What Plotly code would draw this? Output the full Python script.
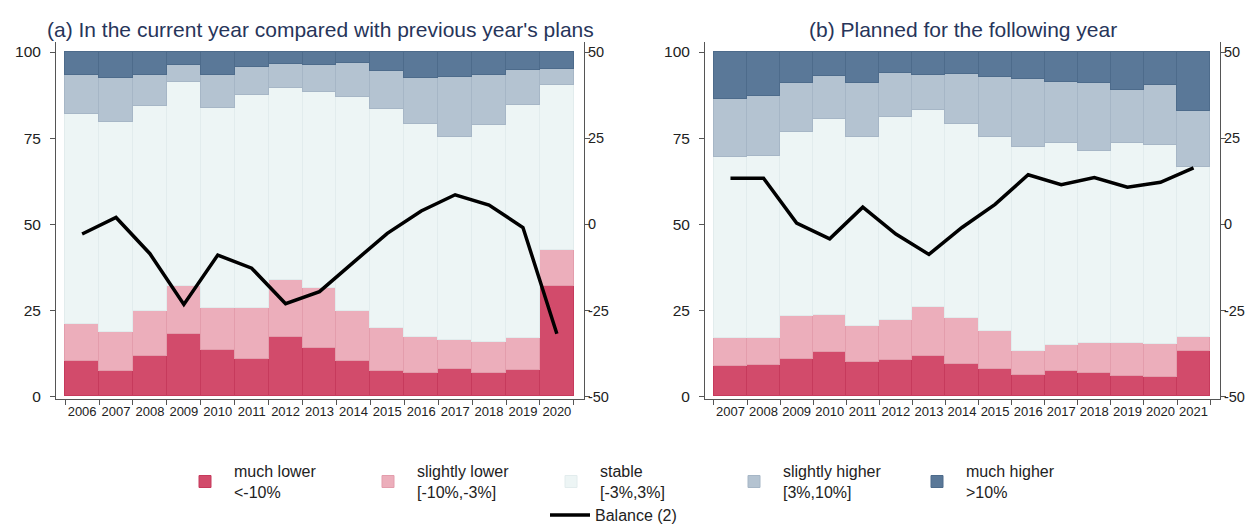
import plotly.graph_objects as go

# ---------------- data ----------------
years_a = ["2006", "2007", "2008", "2009", "2010", "2011", "2012", "2013",
           "2014", "2015", "2016", "2017", "2018", "2019", "2020"]
years_b = ["2007", "2008", "2009", "2010", "2011", "2012", "2013", "2014",
           "2015", "2016", "2017", "2018", "2019", "2020", "2021"]

# (a) In the current year compared with previous year's plans (shares, %)
much_lower_a = [10.2, 7.3, 11.8, 18.0, 13.4, 10.9, 17.2, 14.0, 10.2, 7.3, 6.8, 8.0, 6.7, 7.6, 32.0]
slightly_lower_a = [10.9, 11.4, 13.0, 14.0, 12.1, 14.8, 16.5, 17.3, 14.5, 12.4, 10.5, 8.3, 9.2, 9.2, 10.4]
stable_a = [60.8, 61.0, 59.3, 59.3, 58.2, 61.8, 55.8, 57.1, 62.2, 63.6, 61.8, 59.0, 62.9, 67.6, 47.8]
slightly_higher_a = [11.2, 12.8, 9.0, 4.9, 9.6, 8.0, 6.9, 7.8, 9.8, 11.2, 13.4, 17.4, 14.4, 10.2, 4.7]
much_higher_a = [6.9, 7.5, 6.9, 3.8, 6.7, 4.5, 3.6, 3.8, 3.3, 5.5, 7.5, 7.3, 6.8, 5.4, 5.1]
balance_a = [-2.8, 2.0, -8.5, -23.2, -8.9, -12.7, -23.0, -19.5, -11.0, -2.6, 3.9, 8.6, 5.6, -0.9, -31.7]

# (b) Planned for the following year (shares, %)
much_lower_b = [8.7, 9.2, 10.8, 12.8, 9.9, 10.6, 11.8, 9.5, 8.0, 6.1, 7.5, 6.7, 6.0, 5.6, 13.3]
slightly_lower_b = [8.3, 7.8, 12.4, 10.9, 10.4, 11.6, 14.0, 13.2, 11.0, 7.2, 7.4, 8.7, 9.6, 9.5, 3.9]
stable_b = [52.3, 52.8, 53.4, 56.8, 54.9, 58.7, 57.4, 56.4, 56.3, 59.1, 58.7, 55.7, 58.0, 57.8, 49.3]
slightly_higher_b = [16.9, 17.4, 14.2, 12.4, 15.8, 12.9, 10.1, 14.5, 17.3, 19.7, 17.7, 19.8, 15.2, 17.3, 16.2]
much_higher_b = [13.8, 12.8, 9.2, 7.1, 9.0, 6.2, 6.7, 6.4, 7.4, 7.9, 8.7, 9.1, 11.2, 9.8, 17.3]
balance_b = [13.4, 13.4, 0.4, -4.2, 5.0, -2.8, -8.7, -0.9, 5.8, 14.4, 11.5, 13.6, 10.8, 12.2, 16.4]

# tick labels
left_ticks = [0, 25, 50, 75, 100]
right_ticks = [-50, -25, 0, 25, 50]
right_ticktext = ["-50", "-25", "0", "25", "50"]

series_names = ["much lower<br><-10%", "slightly lower<br>[-10%,-3%]", "stable<br>[-3%,3%]",
                "slightly higher<br>[3%,10%]", "much higher<br>>10%"]
fill_colors = ["#d24b6b", "#ecaebb", "#edf5f5", "#b4c3d1", "#5a7898"]
edge_colors = ["#c63a5c", "#e39dac", "#e2eced", "#a6b6c6", "#4d6b8b"]

panel_titles = ["(a) In the current year compared with previous year's plans",
                "(b) Planned for the following year"]

FONT = "Liberation Sans, Arial, sans-serif"
TXT = "#222222"

fig = go.Figure()

panels = [
    (years_a, [much_lower_a, slightly_lower_a, stable_a, slightly_higher_a, much_higher_a], balance_a, "x", "y", "y2"),
    (years_b, [much_lower_b, slightly_lower_b, stable_b, slightly_higher_b, much_higher_b], balance_b, "x2", "y3", "y4"),
]

for p, (yrs, series, bal, xa, ya, yb) in enumerate(panels):
    for i, vals in enumerate(series):
        fig.add_trace(go.Bar(
            x=yrs, y=vals, name=series_names[i],
            marker=dict(color=fill_colors[i], line=dict(color=edge_colors[i], width=1)),
            xaxis=xa, yaxis=ya, showlegend=(p == 0), legendgroup=series_names[i],
            legend="legend",
        ))
    fig.add_trace(go.Scatter(
        x=yrs, y=bal, mode="lines", name="Balance (2)",
        line=dict(color="black", width=3.5),
        xaxis=xa, yaxis=yb, showlegend=(p == 0), legend="legend2",
    ))

xd1 = [48 / 1256, 576 / 1256]
xd2 = [697 / 1256, 1212 / 1256]
yd = [(524 - 398) / 524, (524 - 35) / 524]

common_x = dict(type="category", range=[-0.77, 14.8], tickson="boundaries", ticks="outside",
                ticklen=5, tickcolor="#555", showline=True, linecolor="#555", linewidth=1,
                showgrid=False, zeroline=False, tickangle=0,
                tickfont=dict(size=13, color=TXT, family=FONT))
common_yl = dict(range=[-0.7, 102.8], tickvals=left_ticks, ticks="outside", ticklen=5,
                 tickcolor="#555", showline=True, linecolor="#555", linewidth=1, showgrid=False,
                 zeroline=False, ticklabelstandoff=6,
                 tickfont=dict(size=15.5, color=TXT, family=FONT))
common_yr = dict(range=[-50.7, 52.8], tickvals=right_ticks, ticktext=right_ticktext,
                 ticks="outside", ticklen=5, ticklabelstandoff=-5,
                 tickcolor="#555", showline=True, linecolor="#555", linewidth=1, showgrid=False,
                 zeroline=False, side="right", tickfont=dict(size=14.5, color=TXT, family=FONT))

fig.update_layout(
    width=1256, height=524,
    margin=dict(l=0, r=0, t=0, b=0),
    paper_bgcolor="white", plot_bgcolor="white",
    barmode="stack", bargap=0,
    font=dict(family=FONT, color=TXT),
    xaxis=dict(domain=xd1, anchor="y", **common_x),
    yaxis=dict(domain=yd, anchor="x", **common_yl),
    yaxis2=dict(overlaying="y", anchor="x", **common_yr),
    xaxis2=dict(domain=xd2, anchor="y3", **common_x),
    yaxis3=dict(domain=yd, anchor="x2", **common_yl),
    yaxis4=dict(overlaying="y3", anchor="x2", **common_yr),
    legend=dict(orientation="h", x=168 / 1256, y=(524 - 454) / 524, xanchor="left", yanchor="top",
                font=dict(size=16, color=TXT, family=FONT), entrywidth=120, itemwidth=48,
                traceorder="normal", itemclick=False, bgcolor="rgba(0,0,0,0)"),
    legend2=dict(orientation="h", x=537 / 1256, y=(524 - 499) / 524, xanchor="left", yanchor="top",
                 font=dict(size=16, color=TXT, family=FONT), itemwidth=40,
                 bgcolor="rgba(0,0,0,0)"),
)

centers = [(xd1[0] + xd1[1]) / 2, (xd2[0] + xd2[1]) / 2]
for c, t in zip(centers, panel_titles):
    fig.add_annotation(text=t, x=c, y=(524 - 22) / 524, xref="paper", yref="paper",
                       xanchor="center", yanchor="middle", showarrow=False,
                       font=dict(size=21, color="#27355a", family=FONT))

fig.write_html("out.html")
